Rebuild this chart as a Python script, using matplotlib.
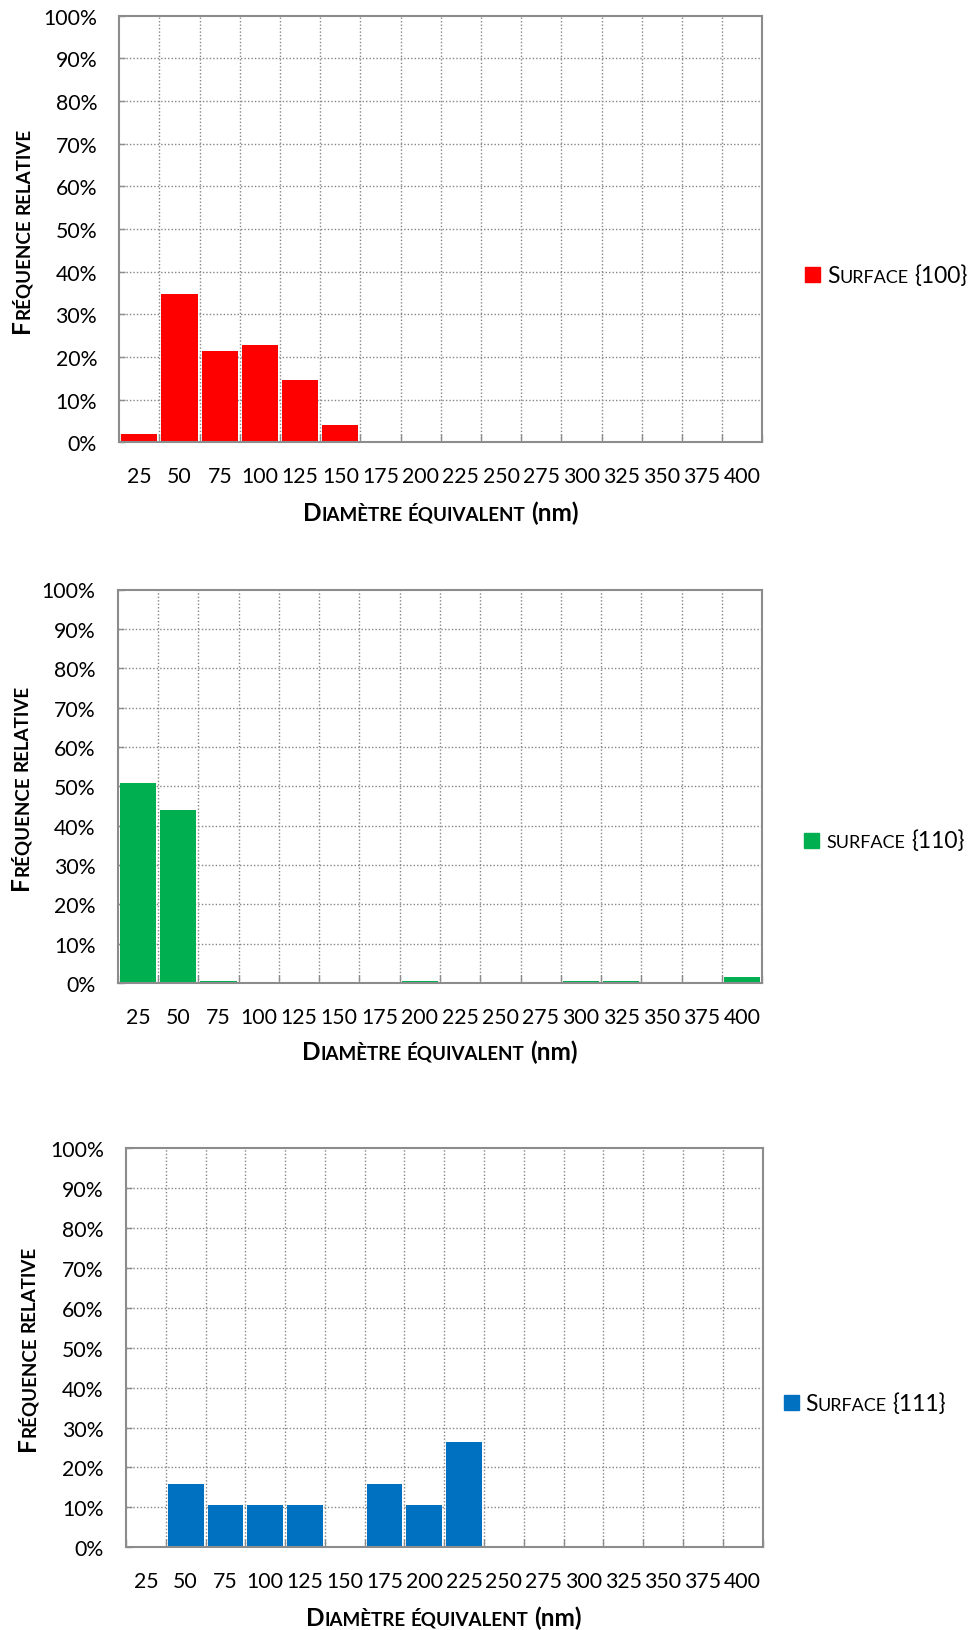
import matplotlib
matplotlib.use('Agg')
import matplotlib.pyplot as plt
from matplotlib.font_manager import FontProperties
from matplotlib.patches import Rectangle
from matplotlib.transforms import IdentityTransform

plt.rcParams['font.family'] = ['Lato', 'DejaVu Sans']

# Classes de diamètre (nm) et fréquences relatives (%) par orientation de surface
diametres = ['25', '50', '75', '100', '125', '150', '175', '200',
             '225', '250', '275', '300', '325', '350', '375', '400']
freq_100 = [2.0, 34.7, 21.5, 22.8, 14.5, 4.1, 0, 0, 0, 0, 0, 0, 0, 0, 0, 0]
freq_110 = [50.8, 43.9, 0.6, 0, 0, 0, 0, 0.6, 0, 0, 0, 0.6, 0.6, 0, 0, 1.6]
freq_111 = [0, 15.8, 10.5, 10.5, 10.5, 0, 15.8, 10.5, 26.3, 0, 0, 0, 0, 0, 0, 0]

couleurs = ['#FF0000', '#00B050', '#0070C0']
gris = '#8c8c8c'

W, H = 976, 1631
fig = plt.figure(figsize=(W / 100, H / 100), dpi=100)
renderer = fig.canvas.get_renderer()

GRAND = 17.6   # taille des majuscules (pt)
PETIT = 13.5   # taille des petites majuscules (pt)
TICK = 15.3


def largeur(s, fp):
    return renderer.get_text_width_height_descent(s, fp, ismath=False)[0]


def petites_majuscules(x, y, morceaux, poids='bold', vertical=False, centre=True):
    # morceaux : liste de (texte, taille) ; None = espace
    fps = [FontProperties(family=['Lato'], size=t, weight=poids) for _, t in morceaux]
    larg = []
    for (s, t), fp in zip(morceaux, fps):
        if s is None:
            larg.append(largeur('n n', fp) - largeur('nn', fp))
        else:
            larg.append(largeur(s, fp))
    pos = -sum(larg) / 2 if centre else 0
    for (s, t), fp, w in zip(morceaux, fps, larg):
        if s is not None:
            if vertical:
                fig.text(x, H - (y - pos), s, fontproperties=fp, rotation=90,
                         rotation_mode='anchor', ha='left', va='baseline',
                         transform=IdentityTransform())
            else:
                fig.text(x + pos, H - y, s, fontproperties=fp, ha='left',
                         va='baseline', transform=IdentityTransform())
        pos += w


def histo(boite, valeurs, couleur):
    gauche, droite, haut, bas = boite
    ax = fig.add_axes([gauche / W, 1 - bas / H, (droite - gauche) / W, (bas - haut) / H])
    n = len(diametres)
    # grille pointillée derrière les barres
    for v in range(10, 100, 10):
        ax.axhline(v, color='#858585', lw=1.0, ls=(0, (1, 1.5)), zorder=0.5)
    for b in range(1, n):
        ax.axvline(b - 0.5, color='#858585', lw=1.0, ls=(0, (1, 1.5)), zorder=0.5)
    ax.bar(range(n), valeurs, width=0.9, color=couleur, zorder=2)
    ax.set_xlim(-0.5, n - 0.5)
    ax.set_ylim(0, 100)
    ax.set_xticks(range(n))
    ax.set_xticklabels(diametres, fontsize=TICK)
    ax.set_xticks([b - 0.5 for b in range(n + 1)], minor=True)
    ax.set_yticks(range(0, 101, 10))
    ax.set_yticklabels([f'{v}%' for v in range(0, 101, 10)], fontsize=TICK)
    ax.tick_params(axis='x', which='major', length=0, pad=17)
    ax.tick_params(axis='x', which='minor', direction='in', length=5.5, color=gris, width=1)
    ax.tick_params(axis='y', direction='in', length=4.5, color=gris, width=1, pad=16)
    for sp in ax.spines.values():
        sp.set_color(gris)
        sp.set_linewidth(1.5)
        sp.set_zorder(3)
    return ax


histo((119.3, 762.3, 16.7, 443.3), freq_100, couleurs[0])
histo((117.7, 762.3, 590.5, 984.0), freq_110, couleurs[1])
histo((126.0, 762.5, 1149.0, 1548.3), freq_111, couleurs[2])

# titres des axes
titre_x = [('D', GRAND), ('IAMÈTRE', PETIT), (None, PETIT), ('ÉQUIVALENT', PETIT),
           (None, GRAND), ('(nm)', GRAND)]
titre_y = [('F', GRAND), ('RÉQUENCE', PETIT), (None, PETIT), ('RELATIVE', PETIT)]

petites_majuscules(440.8, 521, titre_x)
petites_majuscules(440.0, 1060, titre_x)
petites_majuscules(444.0, 1626, titre_x)

petites_majuscules(29.3, 230.0, titre_y, vertical=True)
petites_majuscules(27.7, 787.0, titre_y, vertical=True)
petites_majuscules(35.0, 1348.6, titre_y, vertical=True)

# légendes
legendes = [
    (805, 268, 827, 283, [('S', 16.5), ('URFACE', 13.0), (None, 16.5), ('{100}', 16.5)]),
    (804, 834, 826, 848, [('SURFACE', 13.0), (None, 16.5), ('{110}', 16.5)]),
    (784, 1396, 805, 1411, [('S', 16.5), ('URFACE', 13.0), (None, 16.5), ('{111}', 16.5)]),
]
for (mx, my, tx, ty, morceaux), c in zip(legendes, couleurs):
    fig.patches.append(Rectangle((mx, H - my - 15), 15, 15, color=c,
                                 transform=IdentityTransform(), figure=fig))
    petites_majuscules(tx, ty, morceaux, poids='normal', centre=False)

fig.savefig('out.png', dpi=100, facecolor='white')
